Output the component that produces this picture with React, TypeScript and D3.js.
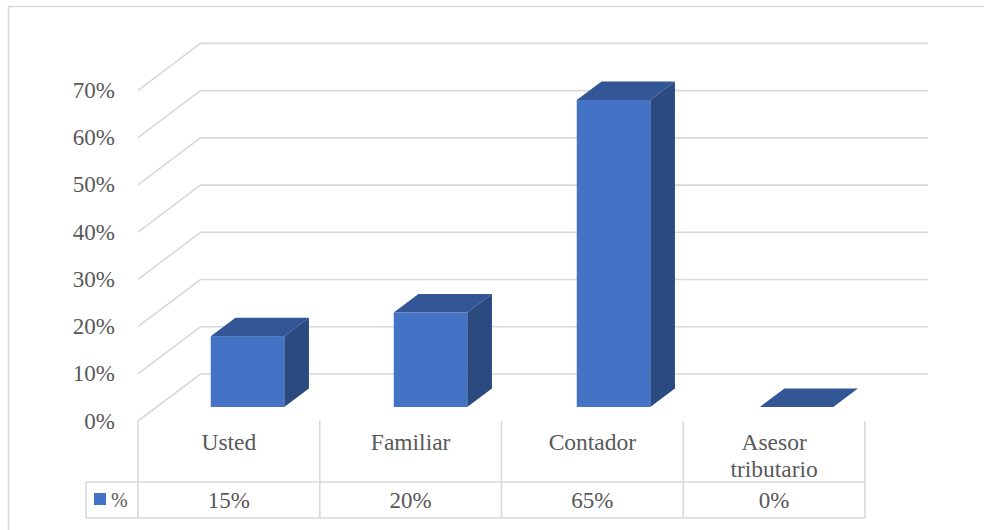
import React from "react";
import * as d3 from "d3";

const categories = ["Usted", "Familiar", "Contador", "Asesor tributario"];
const categoryLines = [["Usted"], ["Familiar"], ["Contador"], ["Asesor", "tributario"]];
const values = [15, 20, 65, 0];
const valueLabels = ["15%", "20%", "65%", "0%"];
const ticks = [0, 10, 20, 30, 40, 50, 60, 70];
const seriesName = "%";

const FONT = "'Liberation Serif', serif";
const GRID = "#d9d9d9";
const TEXT = "#595959";

export default function App() {
  const x = d3.scaleBand<string>().domain(categories).range([138, 865]);
  const barX = d3.scaleBand<string>().domain(categories).range([156, 888]);
  const y = d3.scaleLinear().domain([0, 70]).range([421, 90.4]);
  const depthX = 62.5;
  const depthY = 47;
  const barW = 73.5;
  const bdx = 24.7;
  const bdy = 18.5;

  return (
    <svg width={984} height={530} style={{ position: "absolute", left: 0, top: 0 }} fontFamily={FONT}>
      <rect x={0} y={0} width={984} height={530} fill="#fff" />
      <polyline points="8.5,530 8.5,6.5 984,6.5" fill="none" stroke={GRID} strokeWidth={1.6} />
      {ticks.map((t) => (
        <polyline
          key={t}
          points={`${x.range()[0]},${y(t)} ${x.range()[0] + depthX},${y(t) - depthY} 928,${y(t) - depthY}`}
          fill="none"
          stroke={GRID}
          strokeWidth={1.6}
        />
      ))}
      {ticks.map((t) => (
        <text key={t} x={115} y={y(t) + 7.5} fontSize={23} fill={TEXT} textAnchor="end">
          {t}%
        </text>
      ))}
      {categories.map((c, i) => {
        const cx = barX(c)! + barX.bandwidth() / 2;
        const x0 = cx - barW / 2;
        const x1 = x0 + barW;
        const base = y(0) - 14;
        const top = base - (y(0) - y(values[i]));
        return (
          <g key={c}>
            <polygon
              points={`${x1},${base} ${x1 + bdx},${base - bdy} ${x1 + bdx},${top - bdy} ${x1},${top}`}
              fill="#2a4a80"
            />
            <rect x={x0} y={top} width={barW} height={base - top} fill="#4472c4" />
            <polygon
              points={`${x0},${top} ${x0 + bdx},${top - bdy} ${x1 + bdx},${top - bdy} ${x1},${top}`}
              fill="#335696"
            />
          </g>
        );
      })}
      <g stroke={GRID} strokeWidth={1.6} fill="none">
        <line x1={86} x2={865} y1={482} y2={482} />
        <line x1={86} x2={865} y1={518} y2={518} />
        <line x1={86} x2={86} y1={482} y2={518} />
        {x.domain().map((c) => (
          <line key={c} x1={x(c)!} x2={x(c)!} y1={421} y2={518} />
        ))}
        <line x1={865} x2={865} y1={421} y2={518} />
      </g>
      {categories.map((c, i) => {
        const cx = x(c)! + x.bandwidth() / 2;
        const lines = categoryLines[i];
        return (
          <g key={c} fill={TEXT} textAnchor="middle">
            {lines.map((l, j) => (
              <text key={l} x={cx} y={450 + j * 27} fontSize={23.5}>
                {l}
              </text>
            ))}
            <text x={cx} y={508} fontSize={23}>{valueLabels[i]}</text>
          </g>
        );
      })}
      <rect x={94} y={493} width={12} height={12} fill="#4472c4" />
      <text x={111} y={507} fontSize={20} fill={TEXT}>{seriesName}</text>
    </svg>
  );
}
